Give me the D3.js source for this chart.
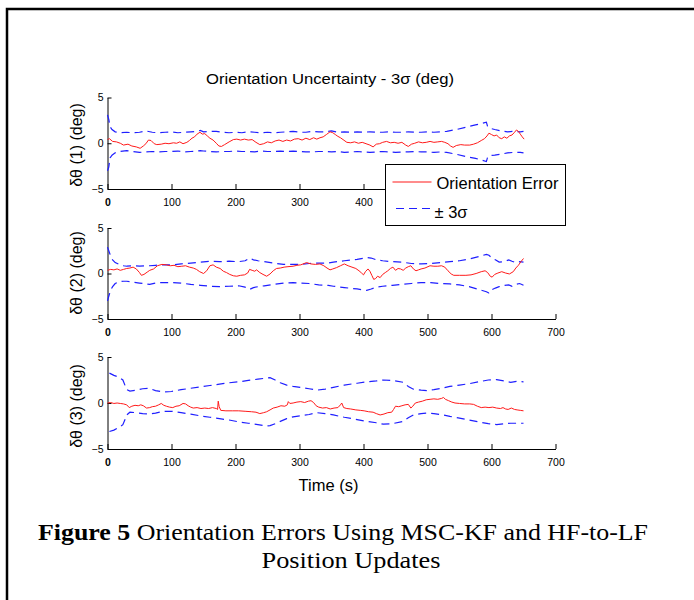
<!DOCTYPE html>
<html><head><meta charset="utf-8">
<script src="https://cdn.jsdelivr.net/npm/d3@7/dist/d3.min.js"></script>
<style>
body{margin:0;background:#fff}
text{font-family:Arial,"Liberation Sans",Helvetica,sans-serif;fill:#000}
</style>
</head><body>
<svg id="chart" width="694" height="600"></svg>
<script>
// ---------------- data ----------------
const titleText = "Orientation Uncertainty - 3\u03C3 (deg)";
const yAxisLabels = ["\u03B4\u03B8 (1) (deg)", "\u03B4\u03B8 (2) (deg)", "\u03B4\u03B8 (3) (deg)"];
const xAxisLabel = "Time (s)";
const xTickValues = [0, 100, 200, 300, 400, 500, 600, 700];
const yTickValues = [-5, 0, 5];
const legendLabels = ["Orientation Error", "\u00B1 3\u03C3"];
const captionBold = "Figure 5";
const captionLine1 = " Orientation Errors Using MSC-KF and HF-to-LF";
const captionLine2 = "Position Updates";

// panel 1 : [time, error]
const err1 = [[0,0.4],[3,0.5],[8,0.2],[14,0.15],[20,0.0],[25,-0.2],[32,-0.1],[38,-0.3],[45,-0.4],[51,-0.55],
[56,-0.3],[60,-0.05],[64,0.35],[68,0.3],[73,-0.05],[77,-0.15],[84,-0.1],[90,0.0],[96,-0.05],[103,0.05],
[108,0.0],[113,0.15],[118,-0.05],[124,0.1],[128,0.3],[132,0.55],[136,0.7],[140,1.0],[144.5,1.2],[148,1.0],
[152,1.05],[156,0.8],[160,0.55],[165,0.35],[170,0.0],[174,-0.3],[178,-0.35],[183,-0.15],[190,0.15],[196.6,0.4],
[202,0.45],[208,0.35],[214,0.45],[220,0.35],[226,0.4],[232,0.1],[238,-0.15],[244,-0.05],[250,0.15],[256,0.05],
[262,0.25],[268,0.35],[274,0.2],[280,0.35],[286,0.25],[292,0.45],[298,0.5],[304,0.35],[310,0.55],[316,0.4],
[322,0.6],[327,0.45],[332,0.6],[337,0.7],[342,0.95],[347.7,1.25],[352,1.15],[356,0.95],[360,0.75],[364,0.6],
[368,0.4],[374,0.1],[380,0.05],[386,0.15],[392,0.0],[398,0.1],[404,-0.05],[410,-0.2],[415,-0.4],[420,-0.1],
[425,-0.05],[430,0.1],[436,0.2],[442,0.05],[448,0.1],[454,0.0],[460,0.1],[466,-0.2],[470,-0.35],[475,-0.1],
[480,0.0],[486,0.15],[492,0.05],[498,0.1],[504,0.2],[510,0.1],[516,0.15],[522,0.2],[527,0.1],[532,-0.05],
[536,-0.3],[540,-0.45],[545,-0.25],[552,-0.15],[558,-0.2],[566,-0.2],[572,-0.1],[578,0.05],[584,0.3],[589,0.5],
[593,0.8],[596,1.1],[600,0.95],[604,0.8],[608,0.9],[612,0.6],[616,0.5],[620,0.7],[624,0.55],[628,0.8],
[632,0.9],[636,1.2],[639,1.45],[642,1.3],[645,1.0],[648,0.7],[651,0.45]];
// panel 1 : [time, +3sigma, -3sigma]
const sig1 = [[0,3.1,-3.0],[2,2.6,-2.6],[4,1.8,-1.6],[7,1.5,-1.3],[12,1.25,-1.05],[20,1.15,-0.9],[30,1.2,-0.8],
[40,1.15,-0.9],[50,1.2,-1.0],[60,1.35,-0.95],[70,1.2,-0.9],[80,1.15,-0.95],[90,1.2,-0.9],[100,1.25,-0.9],
[110,1.15,-0.85],[120,1.2,-0.95],[130,1.25,-0.9],[140,1.3,-0.85],[145,1.4,-0.8],[150,1.25,-0.85],[160,1.3,-0.9],
[170,1.3,-0.95],[180,1.2,-0.9],[190,1.15,-0.9],[200,1.2,-0.85],[210,1.15,-0.9],[220,1.25,-0.9],[230,1.2,-0.95],
[240,1.15,-0.85],[250,1.2,-0.9],[260,1.15,-0.9],[270,1.2,-0.85],[280,1.25,-0.9],[290,1.3,-0.85],[300,1.2,-0.9],
[310,1.2,-0.95],[320,1.3,-0.95],[330,1.25,-0.9],[340,1.25,-0.9],[350,1.35,-0.95],[360,1.2,-0.9],[370,1.25,-1.0],
[380,1.2,-0.95],[390,1.25,-0.9],[400,1.2,-0.95],[410,1.25,-1.0],[420,1.2,-0.95],[430,1.2,-0.9],[440,1.25,-0.95],
[450,1.2,-1.0],[460,1.2,-0.95],[470,1.25,-0.95],[480,1.2,-0.9],[490,1.2,-0.95],[500,1.25,-0.95],[510,1.2,-1.0],
[520,1.25,-0.95],[530,1.3,-1.0],[545,1.5,-1.2],[560,1.75,-1.45],[575,2.0,-1.65],[592,2.3,-2.0],[594,1.8,-1.5],
[597,1.65,-1.35],[605,1.5,-1.3],[615,1.35,-1.2],[625,1.25,-1.05],[635,1.3,-1.0],[645,1.25,-1.0],[650,1.3,-1.05]];

// panel 2
const err2 = [[0,0.35],[5,0.45],[10,0.4],[15,0.5],[20,0.35],[25,0.45],[30,0.55],[35,0.6],[40,0.7],[45,0.5],
[50,0.1],[53,-0.2],[57,-0.1],[62,0.15],[66,0.35],[72,0.5],[78,0.85],[85,1.0],[92,0.95],[98,0.85],
[104,0.9],[110,0.75],[116,0.8],[122,0.85],[128,0.7],[134,0.6],[139,0.45],[144,0.2],[150,0.0],[155,0.3],
[160,0.85],[165,0.95],[170,0.7],[176,0.55],[181,0.25],[186,0.1],[191,-0.1],[196.6,-0.25],[202,-0.3],[208,-0.2],
[214,-0.15],[219,0.05],[222,0.45],[226,0.35],[230,0.25],[233,0.4],[238,0.1],[243,-0.1],[248.7,-0.3],[254,-0.05],
[259,0.3],[264,0.55],[270,0.6],[276,0.7],[282,0.75],[290,0.8],[296,0.9],[302,0.95],[311,1.2],[318,1.05],
[325,1.0],[332,1.05],[338,0.85],[343,0.6],[347.7,0.4],[352,0.5],[358,0.65],[364,0.85],[370,1.05],[376,0.85],
[382,0.7],[388,0.55],[393,0.3],[397,0.05],[400,-0.15],[403,0.2],[407,0.5],[410,0.25],[413,-0.2],[416,-0.65],
[419,-0.55],[422,-0.3],[426,-0.45],[430,-0.1],[434,0.1],[438,0.3],[442,0.55],[446,0.7],[450,0.35],[454,0.55],
[458,0.5],[462,0.35],[466,0.6],[470,0.75],[474,0.85],[478,0.5],[482,0.3],[486,0.4],[490,0.5],[496,0.6],
[504,0.85],[510,0.8],[516,0.8],[522,0.85],[527,0.7],[532,0.3],[537,-0.05],[541,-0.2],[550,-0.2],[560,-0.2],
[568,-0.15],[576,0.0],[584,0.2],[590,0.3],[594,0.1],[598,-0.3],[601,-0.4],[605,-0.1],[610,0.05],[616,0.2],
[622,0.05],[628,-0.05],[634,0.2],[638,0.6],[642,0.9],[646,1.3],[650,1.65]];
const sig2 = [[0,2.9,-3.0],[2,2.5,-2.5],[5,1.9,-1.8],[8,1.5,-1.45],[12,1.2,-1.1],[18,1.0,-0.9],[25,0.85,-0.85],
[30,0.8,-0.85],[40,0.85,-0.95],[50,0.8,-1.05],[60,0.85,-1.15],[66,0.85,-1.2],[75,0.9,-1.05],[85,0.95,-1.0],
[100,0.95,-1.0],[115,1.05,-1.05],[130,1.15,-1.2],[145,1.25,-1.3],[160,1.35,-1.4],[175,1.3,-1.45],[190,1.35,-1.4],
[205,1.3,-1.35],[215,1.4,-1.5],[222,1.7,-1.75],[228,1.5,-1.55],[235,1.4,-1.45],[245,1.3,-1.35],[259,1.15,-1.2],
[275,1.0,-1.05],[290,1.0,-1.0],[301,1.0,-1.05],[315,1.1,-1.1],[330,1.15,-1.25],[345,1.15,-1.3],[353,1.25,-1.4],
[370,1.4,-1.55],[390,1.55,-1.7],[405,1.75,-1.85],[412,1.7,-1.7],[420,1.5,-1.5],[430,1.4,-1.4],[445,1.3,-1.3],
[460,1.25,-1.2],[475,1.1,-1.1],[490,1.05,-1.0],[505,1.1,-1.0],[520,1.2,-1.1],[535,1.3,-1.15],[550,1.4,-1.25],
[565,1.6,-1.45],[580,1.85,-1.75],[592,2.1,-2.0],[596,2.0,-2.15],[600,1.75,-1.8],[606,1.5,-1.6],[612,1.25,-1.45],
[620,1.3,-1.3],[627,1.5,-1.25],[632,1.35,-1.4],[638,1.2,-1.2],[644,1.3,-1.1],[650,1.25,-1.3]];

// panel 3
const err3 = [[0,0.0],[5,0.05],[10,-0.05],[15,0.0],[20,-0.05],[25,-0.1],[30,-0.2],[34,-0.5],[38,-0.35],[43,-0.25],
[48,-0.3],[52,-0.2],[56,-0.3],[61,-0.55],[66,-0.5],[70,-0.4],[75,-0.35],[80,-0.2],[84,-0.05],[88,-0.25],
[92,-0.35],[97,-0.45],[102,-0.5],[107,-0.35],[112,-0.3],[118,-0.05],[122,-0.1],[126,-0.3],[130,-0.45],[134,-0.55],
[140,-0.5],[146,-0.6],[152,-0.55],[158,-0.6],[164,-0.5],[170,-0.6],[172,-0.7],[173,0.2],[174.5,-0.4],[177,-0.8],
[185,-0.85],[195,-0.85],[205,-0.85],[215,-0.9],[225,-0.95],[232,-1.0],[238,-1.15],[244,-1.05],[248.7,-0.95],[254,-0.75],
[259,-0.55],[265,-0.45],[271,-0.3],[277,-0.35],[281,-0.2],[282.5,0.15],[285,-0.05],[290,0.0],[296,0.1],[302,0.15],
[308,0.05],[314,0.2],[318,0.25],[322,0.05],[326,-0.3],[330,-0.45],[336,-0.55],[342,-0.5],[348,-0.65],[354,-0.55],
[360,-0.5],[364,-0.2],[366,0.0],[369,-0.5],[374,-0.6],[380,-0.65],[388,-0.75],[395,-0.8],[401,-0.85],[408,-0.95],
[415,-1.0],[420,-1.15],[426,-1.3],[432,-1.2],[438,-1.05],[444,-1.0],[447,-0.7],[450,-0.35],[455,-0.4],[460,-0.3],
[465,-0.2],[470,-0.15],[474,-0.55],[477,-0.35],[481,0.0],[486,0.1],[492,0.2],[498,0.35],[504,0.4],[510,0.45],
[516,0.4],[522,0.5],[525,0.6],[528,0.4],[533,0.25],[538,0.1],[543,0.0],[550,-0.05],[558,-0.1],[566,-0.1],
[572,-0.15],[578,-0.35],[584,-0.5],[590,-0.45],[596,-0.5],[602,-0.45],[608,-0.55],[614,-0.6],[618,-0.5],[622,-0.65],
[626,-0.7],[631,-0.55],[636,-0.7],[640,-0.75],[645,-0.8],[650,-0.85]];
const sig3 = [[3,3.25,-3.1],[10,3.0,-2.95],[18,2.8,-2.65],[24,2.5,-2.35],[28,1.8,-1.7],[30,1.45,-1.3],[35,1.3,-1.0],
[45,1.4,-1.05],[55,1.55,-1.15],[65,1.6,-1.2],[75,1.35,-1.1],[87,1.2,-0.9],[100,1.25,-0.9],[115,1.45,-1.05],
[130,1.6,-1.2],[145,1.75,-1.4],[160,1.9,-1.55],[175,2.05,-1.7],[190,2.2,-1.85],[205,2.3,-2.05],[220,2.45,-2.2],
[235,2.6,-2.35],[248,2.7,-2.5],[254,2.75,-2.45],[262,2.5,-2.25],[270,2.2,-2.0],[280,1.95,-1.7],[290,1.8,-1.5],
[301,1.7,-1.4],[315,1.55,-1.25],[327,1.4,-1.05],[340,1.5,-1.15],[353,1.7,-1.3],[370,1.95,-1.55],[390,2.15,-1.8],
[405,2.3,-2.0],[420,2.4,-2.15],[431,2.5,-2.3],[445,2.45,-2.25],[462,2.25,-2.0],[470,1.8,-1.6],[478,1.5,-1.3],
[490,1.4,-1.15],[499,1.35,-1.1],[510,1.45,-1.15],[525,1.65,-1.3],[535,1.8,-1.45],[550,1.95,-1.65],[565,2.1,-1.85],
[580,2.3,-2.05],[595,2.5,-2.25],[608,2.55,-2.35],[620,2.4,-2.25],[630,2.25,-2.2],[640,2.35,-2.2],[650,2.3,-2.2]];

const errors = [err1, err2, err3];
const sigmas = [sig1, sig2, sig3];

// ---------------- drawing ----------------
const svg = d3.select("#chart");
const W = 694, H = 600;
svg.append("rect").attr("width", W).attr("height", H).attr("fill", "#fff");

// page frame
svg.append("path").attr("d", "M7,600V9H694").attr("fill", "none")
  .attr("stroke", "#000").attr("stroke-width", 2.5);

const x = d3.scaleLinear().domain([0, 700]).range([107.5, 555.5]);
const panelTops = [97.5, 228, 357];
const panelBottoms = [189, 319, 449];
const labelCenters = [145, 273, 406];

const red = "#ff1a1a", blue = "#1f1fff";

svg.append("text").attr("x", 330).attr("y", 84)
  .attr("text-anchor", "middle").attr("font-size", 15.5)
  .attr("textLength", 248).attr("lengthAdjust", "spacingAndGlyphs")
  .text(titleText);

function drawPanel(i) {
  const y = d3.scaleLinear().domain([-5, 5]).range([panelBottoms[i], panelTops[i]]);
  const g = svg.append("g");

  const gx = g.append("g").attr("transform", `translate(0,${panelBottoms[i]})`)
    .call(d3.axisBottom(x).tickValues(xTickValues).tickSizeInner(-5).tickSizeOuter(0)
      .tickPadding(10).tickFormat(d3.format("d")));
  const gy = g.append("g").attr("transform", `translate(${x(0)},0)`)
    .call(d3.axisLeft(y).tickValues(yTickValues).tickSizeInner(-4).tickSizeOuter(0)
      .tickPadding(4).tickFormat(d3.format("d")));
  [gx, gy].forEach(a => {
    a.attr("font-family", null).attr("font-size", null);
    a.selectAll("text").attr("font-size", 10.5).attr("fill", "#000");
    a.selectAll("line,path").attr("stroke", "#000");
  });
  gx.selectAll(".tick text").filter(d => d === 0).attr("font-weight", "bold");

  g.append("text")
    .attr("transform", `translate(76,${labelCenters[i]}) rotate(-90)`)
    .attr("text-anchor", "middle").attr("dy", "0.35em")
    .attr("font-size", 16).text(yAxisLabels[i]);

  const line = d3.line().x(d => x(d[0])).y(d => y(d[1]));
  const lineUp = d3.line().x(d => x(d[0])).y(d => y(d[1]));
  const lineLo = d3.line().x(d => x(d[0])).y(d => y(d[2]));

  g.append("path").datum(sigmas[i]).attr("d", lineUp).attr("fill", "none")
    .attr("stroke", blue).attr("stroke-width", 1.2).attr("stroke-dasharray", "8,5");
  g.append("path").datum(sigmas[i]).attr("d", lineLo).attr("fill", "none")
    .attr("stroke", blue).attr("stroke-width", 1.2).attr("stroke-dasharray", "8,5");
  g.append("path").datum(errors[i]).attr("d", line).attr("fill", "none")
    .attr("stroke", red).attr("stroke-width", 1);
}

drawPanel(0);

// legend (over panel 1)
const lg = svg.append("g");
lg.append("rect").attr("x", 385.5).attr("y", 164.5).attr("width", 180).attr("height", 61)
  .attr("fill", "#fff").attr("stroke", "#000").attr("stroke-width", 1);
lg.append("line").attr("x1", 392.5).attr("x2", 431.5).attr("y1", 182).attr("y2", 182)
  .attr("stroke", red).attr("stroke-width", 1.2);
lg.append("text").attr("x", 436.5).attr("y", 183.5).attr("dy", "0.35em")
  .attr("font-size", 16.5).text(legendLabels[0]);
lg.append("line").attr("x1", 396).attr("x2", 431).attr("y1", 208.5).attr("y2", 208.5)
  .attr("stroke", blue).attr("stroke-width", 1.2).attr("stroke-dasharray", "8,5");
lg.append("text").attr("x", 434.5).attr("y", 212).attr("dy", "0.35em")
  .attr("font-size", 16.5).text(legendLabels[1]);

drawPanel(1);
drawPanel(2);

svg.append("text").attr("x", 328.5).attr("y", 491)
  .attr("text-anchor", "middle").attr("font-size", 16.5).text(xAxisLabel);

const cap = svg.append("text").attr("x", 343).attr("y", 540)
  .attr("text-anchor", "middle").attr("font-size", 24)
  .attr("textLength", 610).attr("lengthAdjust", "spacingAndGlyphs")
  .style("font-family", "'Liberation Serif','Times New Roman',serif");
cap.append("tspan").attr("font-weight", "bold").text(captionBold);
cap.append("tspan").text(captionLine1);
svg.append("text").attr("x", 351).attr("y", 568)
  .attr("text-anchor", "middle").attr("font-size", 24)
  .attr("textLength", 179).attr("lengthAdjust", "spacingAndGlyphs")
  .style("font-family", "'Liberation Serif','Times New Roman',serif")
  .text(captionLine2);
</script>
</body></html>
